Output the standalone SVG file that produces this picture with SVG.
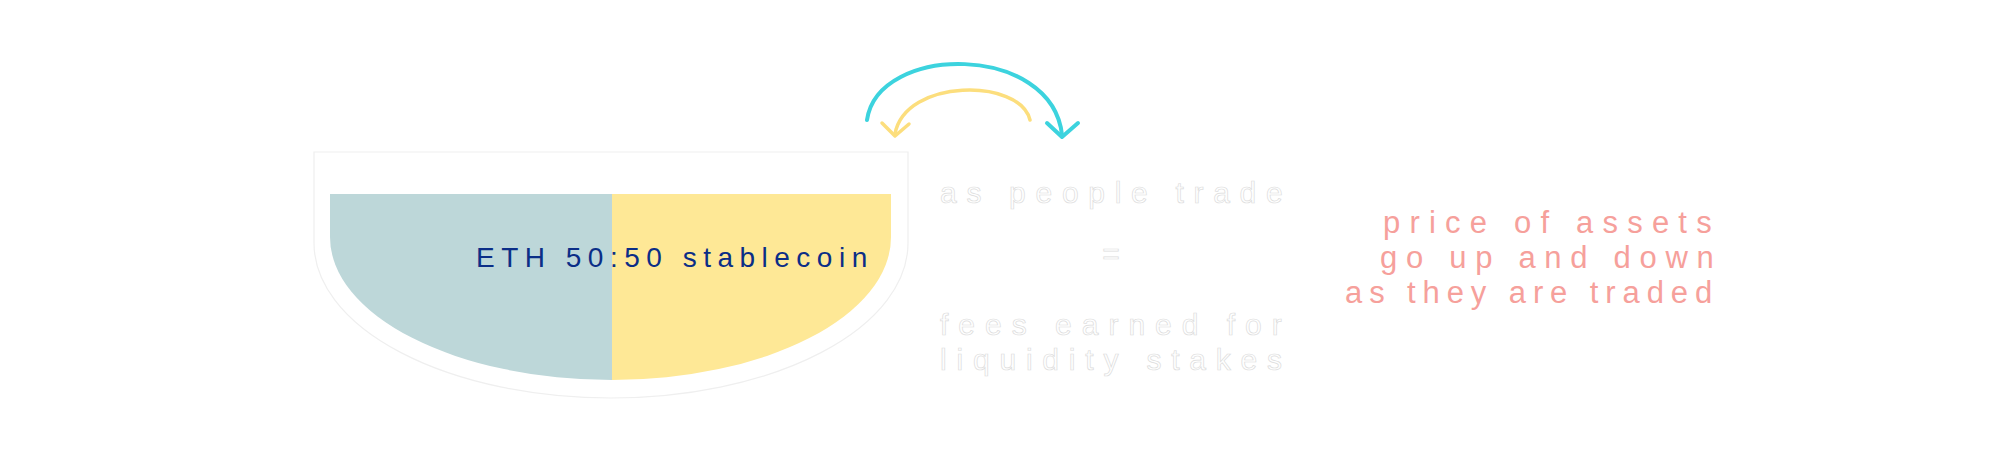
<svg xmlns="http://www.w3.org/2000/svg" width="1999" height="474" viewBox="0 0 1999 474">
  <style>
    .label { font-family: "Liberation Sans", Arial, sans-serif; }
    .pool { font-size: 28px; fill: #0b2e87; letter-spacing: 6.5px; }
    .ghost { font-size: 30px; fill: #ffffff; stroke: #dcdcdc; stroke-width: 0.7px; }
    .note { font-size: 31px; fill: #f6a09b; }
    .arc { fill: none; stroke-linecap: round; stroke-linejoin: round; }
  </style>
  <rect width="1999" height="474" fill="#ffffff"/>

  <g id="pool">
    <path d="M314 152 H908 V243 A297 155 0 0 1 611 398 A297 155 0 0 1 314 243 Z" fill="#ffffff" stroke="#efefef" stroke-width="1.2"/>
    <path d="M330 194 H612 V380 A282 143 0 0 1 330 237 Z" fill="#bdd7d9"/>
    <path d="M612 194 H891 V237 A279 143 0 0 1 612 380 Z" fill="#fee896"/>
    <text class="label pool" x="476" y="267">ETH 50:50 stablecoin</text>
  </g>

  <g id="connectors">
    <path class="arc" d="M867 120 C 878 43, 1052 43, 1062 135" stroke="#3cd3de" stroke-width="4"/>
    <path class="arc" d="M1047 123 L1062 137 L1078 123" stroke="#3cd3de" stroke-width="4"/>
    <path class="arc" d="M1030 120 C 1020 78, 905 78, 895 134" stroke="#fcde7d" stroke-width="3.5"/>
    <path class="arc" d="M882 123 L895 136 L909 124" stroke="#fcde7d" stroke-width="3.5"/>
  </g>

  <g id="fees">
    <text class="label ghost" x="940" y="203" style="letter-spacing:9.7px">as people trade</text>
    <text class="label ghost" x="1111" y="264" text-anchor="middle">=</text>
    <text class="label ghost" x="940" y="335" style="letter-spacing:10px">fees earned for</text>
    <text class="label ghost" x="940" y="370" style="letter-spacing:9.8px">liquidity stakes</text>
  </g>

  <g id="price">
    <text class="label note" x="1383" y="233" style="letter-spacing:9.2px">price of assets</text>
    <text class="label note" x="1380" y="268" style="letter-spacing:8.7px">go up and down</text>
    <text class="label note" x="1345" y="303" style="letter-spacing:6.9px">as they are traded</text>
  </g>
</svg>
